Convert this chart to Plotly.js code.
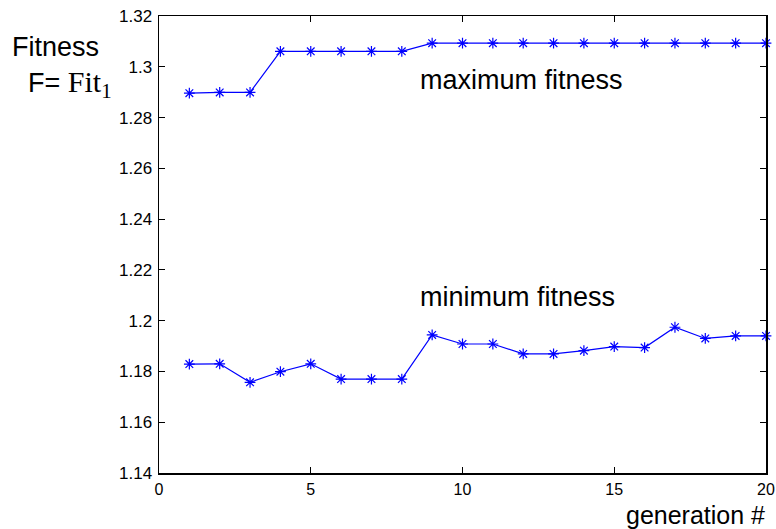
<!DOCTYPE html>
<html>
<head>
<meta charset="utf-8">
<script src="https://cdn.plot.ly/plotly-3.0.1.min.js"></script>
<style>html,body{margin:0;padding:0;background:#fff;}#chart{width:776px;height:529px;}</style>
</head>
<body>
<div id="chart"></div>
<script>
// Data
const generations = [1,2,3,4,5,6,7,8,9,10,11,12,13,14,15,16,17,18,19,20];
const maxFitness = [1.2896,1.2899,1.2899,1.3061,1.3061,1.3061,1.3061,1.3061,1.3093,1.3093,1.3093,1.3093,1.3093,1.3093,1.3093,1.3093,1.3093,1.3093,1.3093,1.3093];
const minFitness = [1.1829,1.1830,1.1757,1.1799,1.1830,1.1770,1.1770,1.1770,1.1944,1.1908,1.1908,1.1869,1.1869,1.1882,1.1898,1.1894,1.1974,1.1930,1.1940,1.1940];
const xTickVals = [0,5,10,15,20];
const xTickText = ['0','5','10','15','20'];
const yTickVals = [1.14,1.16,1.18,1.20,1.22,1.24,1.26,1.28,1.30,1.32];
const yTickText = ['1.14','1.16','1.18','1.2','1.22','1.24','1.26','1.28','1.3','1.32'];

const font = 'Liberation Sans, Arial, sans-serif';
const marker = {symbol:'asterisk-open', size:9, color:'#0000ff', line:{color:'#0000ff', width:1.2}};
const traces = [
  {x:generations, y:maxFitness, mode:'lines+markers', line:{color:'#0000ff', width:1.2}, marker:marker, name:'maximum fitness', cliponaxis:false},
  {x:generations, y:minFitness, mode:'lines+markers', line:{color:'#0000ff', width:1.2}, marker:marker, name:'minimum fitness', cliponaxis:false}
];
const layout = {
  width:776, height:529,
  margin:{l:159, r:10, t:16, b:56},
  paper_bgcolor:'#fff', plot_bgcolor:'#fff',
  showlegend:false,
  font:{family:font, size:17, color:'#000'},
  xaxis:{range:[0,20], tickvals:xTickVals, ticktext:xTickText, ticks:'inside', ticklen:6, tickcolor:'#000',
         showline:true, linecolor:'#000', linewidth:1.5, mirror:'ticks', showgrid:false, zeroline:false,
         ticklabelstandoff:1, tickfont:{family:font, size:16}},
  yaxis:{range:[1.14,1.32], tickvals:yTickVals, ticktext:yTickText, ticks:'inside', ticklen:6, tickcolor:'#000',
         showline:true, linecolor:'#000', linewidth:1.5, mirror:'ticks', showgrid:false, zeroline:false,
         ticklabelstandoff:2, tickfont:{family:font, size:17}},
  annotations:[
    {text:'maximum fitness', x:8.53, y:1.2948, xref:'x', yref:'y', xanchor:'left', yanchor:'middle', showarrow:false, font:{family:font, size:27, color:'#000'}},
    {text:'minimum fitness', x:8.53, y:1.2093, xref:'x', yref:'y', xanchor:'left', yanchor:'middle', showarrow:false, font:{family:font, size:27, color:'#000'}},
    {text:'Fitness', x:-0.245, y:0.933, xref:'paper', yref:'paper', xanchor:'left', yanchor:'middle', showarrow:false, font:{family:font, size:27, color:'#000'}},
    {text:'F= <span style="font-family:Liberation Serif, Times New Roman, serif;font-size:30px">Fit<sub>1</sub></span>', x:-0.219, y:0.852, xref:'paper', yref:'paper', xanchor:'left', yanchor:'middle', showarrow:false, font:{family:font, size:27, color:'#000'}},
    {text:'generation #', x:1.0, y:-0.1245, xref:'paper', yref:'paper', xanchor:'right', yanchor:'bottom', borderpad:0, showarrow:false, font:{family:font, size:25, color:'#000'}}
  ]
};
Plotly.newPlot('chart', traces, layout, {displayModeBar:false, staticPlot:true});
</script>
</body>
</html>
